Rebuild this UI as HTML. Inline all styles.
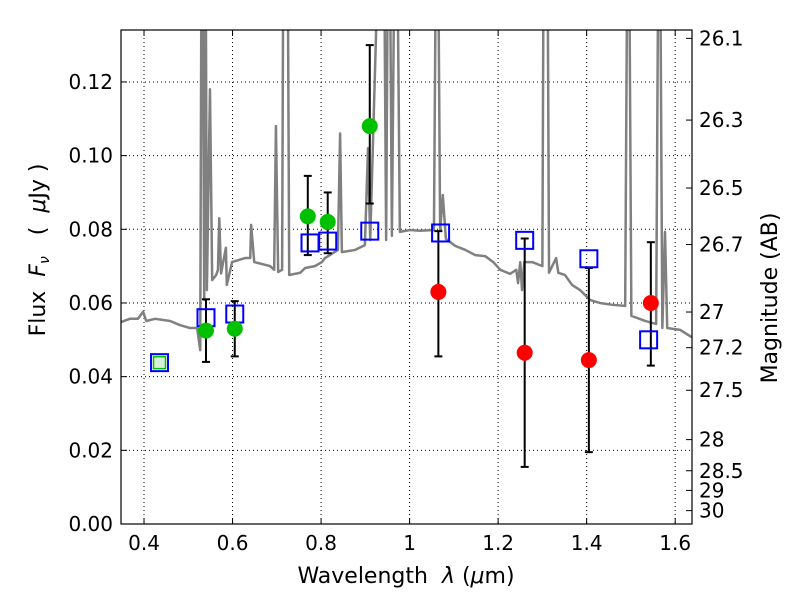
<!DOCTYPE html>
<html><head><meta charset="utf-8"><style>
body{margin:0;background:#fff;}
svg text{font-family:"DejaVu Sans","Liberation Sans",sans-serif;fill:#000;}
</style></head><body>
<svg id="chart" width="800" height="600"></svg>
<script>
const specLam=[0.348,0.368,0.386,0.398,0.405,0.425,0.459,0.481,0.504,0.520,0.527,0.531,0.536,0.538,0.542,0.549,0.554,0.563,0.567,0.570,0.574,0.585,0.587,0.599,0.628,0.640,0.642,0.649,0.685,0.694,0.698,0.703,0.712,0.716,0.723,0.728,0.753,0.764,0.786,0.802,0.809,0.820,0.838,0.843,0.847,0.877,0.899,0.906,0.911,0.940,0.947,0.953,0.960,0.969,0.978,1.001,1.023,1.055,1.062,1.069,1.075,1.082,1.103,1.126,1.148,1.171,1.189,1.205,1.227,1.241,1.245,1.250,1.254,1.259,1.277,1.300,1.304,1.310,1.315,1.331,1.336,1.351,1.367,1.385,1.408,1.430,1.458,1.487,1.494,1.501,1.533,1.557,1.564,1.571,1.577,1.582,1.611,1.640];
const specFlux=[0.0548,0.0557,0.0557,0.0576,0.0551,0.0557,0.0551,0.0540,0.0532,0.0532,0.0472,0.2,0.0608,0.2,0.0635,0.118,0.0662,0.0676,0.069,0.083,0.068,0.075,0.0649,0.0711,0.0722,0.0722,0.0812,0.0711,0.0700,0.0690,0.108,0.0684,0.0690,0.2,0.2,0.0676,0.0682,0.0695,0.0700,0.0711,0.0722,0.0730,0.0744,0.106,0.0738,0.0744,0.0757,0.102,0.0771,0.2,0.0771,0.2,0.0782,0.2,0.0793,0.0798,0.0796,0.0798,0.2,0.0796,0.0893,0.0774,0.0755,0.0744,0.0730,0.0727,0.0711,0.0690,0.0679,0.0690,0.0654,0.0711,0.0635,0.0711,0.0711,0.0700,0.2,0.2,0.0682,0.0722,0.0682,0.0676,0.0649,0.0635,0.0608,0.0600,0.0595,0.0592,0.2,0.0565,0.0551,0.0543,0.2,0.0532,0.0793,0.0532,0.0527,0.0505];
const obsLam=[0.54,0.605,0.77,0.815,0.91];
const obsFlux=[0.0525,0.053,0.0835,0.082,0.108];
const obsLo=[0.044,0.0455,0.073,0.0735,0.087];
const obsHi=[0.061,0.0605,0.0945,0.090,0.130];
const irLam=[1.065,1.26,1.405,1.545];
const irFlux=[0.063,0.0465,0.0445,0.060];
const irLo=[0.0455,0.0155,0.0195,0.043];
const irHi=[0.0795,0.0775,0.0695,0.0765];
const modLam=[0.435,0.54,0.605,0.775,0.815,0.91,1.07,1.26,1.405,1.54];
const modFlux=[0.0438,0.056,0.057,0.0763,0.0768,0.0795,0.079,0.077,0.072,0.050];
const xTicks=[0.4,0.6,0.8,1.0,1.2,1.4,1.6];
const xTickLabels=["0.4","0.6","0.8","1","1.2","1.4","1.6"];
const yTicks=[0,0.02,0.04,0.06,0.08,0.10,0.12];
const yTickLabels=["0.00","0.02","0.04","0.06","0.08","0.10","0.12"];
const magTicks=[26.1,26.3,26.5,26.7,27,27.2,27.5,28,28.5,29,30];
const magLabels=["26.1","26.3","26.5","26.7","27","27.2","27.5","28","28.5","29","30"];

const L=121,R=692,T=30,B=524,X0=0.348,X1=1.638,Y0=0,Y1=0.1341;
const sx=v=>L+(v-X0)/(X1-X0)*(R-L);
const sy=v=>B-(v-Y0)/(Y1-Y0)*(B-T);
const NS="http://www.w3.org/2000/svg";
const svg=document.getElementById('chart');
function mk(tag,attrs,parent){const e=document.createElementNS(NS,tag);for(const k in attrs)e.setAttribute(k,attrs[k]);(parent||svg).appendChild(e);return e;}
const defs=mk('defs',{});const cp=mk('clipPath',{id:'clip'},defs);mk('rect',{x:L,y:T,width:R-L,height:B-T},cp);

xTicks.forEach((t,i)=>{const g=mk('line',{x1:sx(t),x2:sx(t),y1:T,y2:B,stroke:'#000','stroke-dasharray':'1,3','stroke-width':1});

});
yTicks.forEach((t,i)=>{const g=mk('line',{x1:L,x2:R,y1:sy(t),y2:sy(t),stroke:'#000','stroke-dasharray':'1,3','stroke-width':1});

});

const plot=mk('g',{'clip-path':'url(#clip)'});


const sp=mk('polyline',{points:specLam.map((l,i)=>sx(l)+','+sy(specFlux[i])).join(' '),fill:'none',stroke:'#808080','stroke-width':2.5,'stroke-linejoin':'round'},plot);



function errbar(l,lo,hi){const g=mk('g',{stroke:'#000','stroke-width':2},plot);


mk('line',{x1:sx(l),x2:sx(l),y1:sy(lo),y2:sy(hi)},g);
mk('line',{x1:sx(l)-4,x2:sx(l)+4,y1:sy(lo),y2:sy(lo)},g);
mk('line',{x1:sx(l)-4,x2:sx(l)+4,y1:sy(hi),y2:sy(hi)},g);}
obsLam.forEach((l,i)=>errbar(l,obsLo[i],obsHi[i]));
irLam.forEach((l,i)=>errbar(l,irLo[i],irHi[i]));

modLam.forEach((l,i)=>{const s=mk('rect',{x:sx(l)-8.5,y:sy(modFlux[i])-8.5,width:17,height:17,fill:'none',stroke:'#0000ff','stroke-width':2},plot);


if(i===0){const s2=mk('rect',{x:sx(l)-6,y:sy(modFlux[i])-6,width:12,height:12,fill:'#d8f0d8',stroke:'#00c000','stroke-width':1.5},plot);

}});
obsLam.forEach((l,i)=>{const c=mk('circle',{cx:sx(l),cy:sy(obsFlux[i]),r:8,fill:'#00c000'},plot);

});
irLam.forEach((l,i)=>{const c=mk('circle',{cx:sx(l),cy:sy(irFlux[i]),r:8,fill:'#ff0000'},plot);

});

const fr=mk('rect',{x:L,y:T,width:R-L,height:B-T,fill:'none',stroke:'#000','stroke-width':1.2});



xTicks.forEach((t,i)=>{mk('line',{x1:sx(t),x2:sx(t),y1:B,y2:B-6,stroke:'#000'});mk('line',{x1:sx(t),x2:sx(t),y1:T,y2:T+6,stroke:'#000'});
const tx=mk('text',{x:sx(t),y:B+26,'text-anchor':'middle','font-size':20});tx.textContent=xTickLabels[i];

});
yTicks.forEach((t,i)=>{mk('line',{x1:L,x2:L+6,y1:sy(t),y2:sy(t),stroke:'#000'});
const tx=mk('text',{x:L-8,y:sy(t)+7,'text-anchor':'end','font-size':20});tx.textContent=yTickLabels[i];

});
magTicks.forEach((m,i)=>{const f=Math.pow(10,(23.9-m)/2.5);const y=sy(f);
mk('line',{x1:R,x2:R-6,y1:y,y2:y,stroke:'#000'});
const tx=mk('text',{x:R+7,y:y+7,'font-size':20});tx.textContent=magLabels[i];

});

const xt=mk('text',{x:406,y:583,'text-anchor':'middle','font-size':22,'xml:space':'preserve'});xt.setAttribute('style','white-space:pre');xt.innerHTML='Wavelength  <tspan font-style="italic">λ</tspan> (<tspan font-style="italic">μ</tspan>m)';


const yt=mk('text',{x:0,y:0,'text-anchor':'middle','font-size':22,transform:'translate(45,250) rotate(-90)'});yt.setAttribute('style','white-space:pre');yt.innerHTML='Flux  <tspan font-style="italic">F</tspan><tspan font-style="italic" font-size="14" dy="4">ν</tspan><tspan dy="-4">   (  </tspan><tspan font-style="italic">μ</tspan>Jy )';


const rt=mk('text',{x:0,y:0,'text-anchor':'middle','font-size':22,transform:'translate(777,298) rotate(-90)'});rt.textContent='Magnitude (AB)';


</script>
</body></html>
